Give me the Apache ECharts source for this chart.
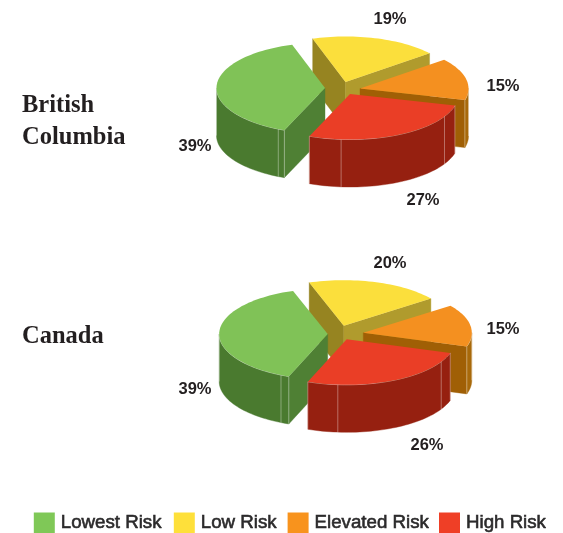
<!DOCTYPE html>
<html>
<head>
<meta charset="utf-8">
<style>html,body{margin:0;padding:0;background:#fff}#c{width:563px;height:533px}</style>
<script src="https://cdn.jsdelivr.net/npm/echarts@6/dist/echarts.min.js"></script>
</head>
<body>
<div id="c"></div>
<script>
// ---- data ----
const categories = ['Lowest Risk', 'Low Risk', 'Elevated Risk', 'High Risk'];
const regions = ['British\nColumbia', 'Canada'];
const britishColumbia = [39, 19, 15, 27];
const canada = [39, 20, 15, 26];
const regionValues = [britishColumbia, canada];

// ---- styles ----
const topColors = ['#80c257', '#fbdf3c', '#f49020', '#ea3e26'];
const legendColors = ['#7fc857', '#fee03a', '#f8931d', '#ef3f26'];
const startWallColors = ['#4f8034', '#968421', '#a05f05', '#962010'];
const endWallColors = ['#4f8034', '#b09b2d', '#a05f05', '#962010'];
const outerWallColors = ['#4a7a2f', '#968421', '#a8690a', '#962010'];
const drawOrder = [4, 2, 3, 5];
const legendLefts = [33.8, 173.8, 287.6, 439];
const INK = '#231f20';

// ---- layout of each exploded pie ----
const pies = [
  { cx: 344, cy: 88, rx: 108.5, ry: 45.5, depth: 47.5, startAngle: 112,
    explode: [[-19, 0], [1.5, -6], [16, 0.5], [6, 6]],
    seams: [[115.5], [], [], [94.7, 29.4]],
    labels: [[195, 146], [390, 19], [503, 86], [423, 200]] },
  { cx: 345, cy: 333, rx: 108.5, ry: 45.5, depth: 47.5, startAngle: 111,
    explode: [[-17.3, 1], [-1.2, -7.3], [18.3, -0.2], [1.7, 6.3]],
    seams: [[115.5], [], [], [94.7, 29.4]],
    labels: [[195, 389], [390, 263], [503, 329], [427, 445]] }
];

function renderSlice(params, api) {
  const pieIndex = api.value(0);
  const value = api.value(1);
  const cat = params.seriesIndex;
  const vals = regionValues[pieIndex];
  const total = vals.reduce((a, b) => a + b, 0);
  const before = vals.slice(0, cat).reduce((a, b) => a + b, 0);
  const p = pies[pieIndex];
  const a0 = p.startAngle + before / total * 360;
  const a1 = a0 + value / total * 360;
  const ax = p.cx + p.explode[cat][0];
  const ay = p.cy + p.explode[cat][1];
  const pt = (deg, drop) => [
    ax + p.rx * Math.cos(deg * Math.PI / 180),
    ay + p.ry * Math.sin(deg * Math.PI / 180) + (drop || 0)
  ];
  const arc = (from, to, drop) => {
    const out = [];
    const n = Math.max(2, Math.ceil((to - from) / 2));
    for (let i = 0; i <= n; i++) out.push(pt(from + (to - from) * i / n, drop));
    return out;
  };
  const children = [];
  const apex = [ax, ay];
  const apexLow = [ax, ay + p.depth];
  const wall = (deg, color) => {
    children.push({ type: 'polygon',
      shape: { points: [apex, pt(deg), pt(deg, p.depth), apexLow] },
      style: { fill: color, stroke: color, lineWidth: 0.4 } });
  };
  if (Math.cos(a0 * Math.PI / 180) < 0) wall(a0, startWallColors[cat]);
  if (Math.cos(a1 * Math.PI / 180) > 0) wall(a1, endWallColors[cat]);
  const seam = (deg) => {
    children.push({ type: 'line',
      shape: { x1: pt(deg)[0], y1: pt(deg)[1], x2: pt(deg, p.depth)[0], y2: pt(deg, p.depth)[1] },
      style: { stroke: 'rgba(255,255,255,0.45)', lineWidth: 0.8 } });
  };
  [[0, 180], [360, 540]].forEach(([lo, hi]) => {
    const from = Math.max(a0, lo), to = Math.min(a1, hi);
    if (to > from) {
      const upper = arc(from, to, 0);
      const lower = arc(from, to, p.depth).reverse();
      children.push({ type: 'polygon', shape: { points: upper.concat(lower) },
        style: { fill: outerWallColors[cat], stroke: outerWallColors[cat], lineWidth: 0.4 } });
      seam(from);
      seam(to);
      children.push({ type: 'polyline', shape: { points: upper },
        style: { fill: 'none', stroke: 'rgba(255,255,255,0.55)', lineWidth: 0.8 } });
    }
  });
  p.seams[cat].forEach(seam);
  children.push({ type: 'polygon', shape: { points: [apex].concat(arc(a0, a1, 0)) },
    style: { fill: topColors[cat] } });
  children.push({ type: 'text',
    style: { text: value + '%', x: p.labels[cat][0], y: p.labels[cat][1],
      fill: INK, font: 'bold 16.5px "Liberation Sans"', align: 'center', verticalAlign: 'middle' } });
  return { type: 'group', children };
}

const chart = echarts.init(document.getElementById('c'), null, { renderer: 'canvas' });
chart.setOption({
  animation: false,
  backgroundColor: '#fff',
  color: topColors,
  title: [
    { text: regions[0], left: 22, top: 90, padding: 0,
      textStyle: { fontFamily: 'Liberation Serif', fontWeight: 'bold', fontSize: 24.5, lineHeight: 32, color: INK } },
    { text: regions[1], left: 22, top: 321, padding: 0,
      textStyle: { fontFamily: 'Liberation Serif', fontWeight: 'bold', fontSize: 24.5, lineHeight: 32, color: INK } }
  ],
  legend: categories.map((name, i) => ({
    left: legendLefts[i], top: 512.5, padding: 0, itemWidth: 21, itemHeight: 20.5, icon: 'rect',
    selectedMode: false,
    textStyle: { fontFamily: 'Liberation Sans', fontSize: 18.7, color: '#2b2a2b',
      padding: [2, 0, 0, 1], textBorderColor: '#2b2a2b', textBorderWidth: 0.6 },
    data: [{ name, itemStyle: { color: legendColors[i] } }]
  })),
  series: categories.map((name, i) => ({
    type: 'custom',
    name,
    coordinateSystem: 'none',
    z: drawOrder[i],
    silent: true,
    itemStyle: { color: topColors[i] },
    renderItem: renderSlice,
    data: regionValues.map((vals, r) => [r, vals[i]])
  }))
});
</script>
</body>
</html>
